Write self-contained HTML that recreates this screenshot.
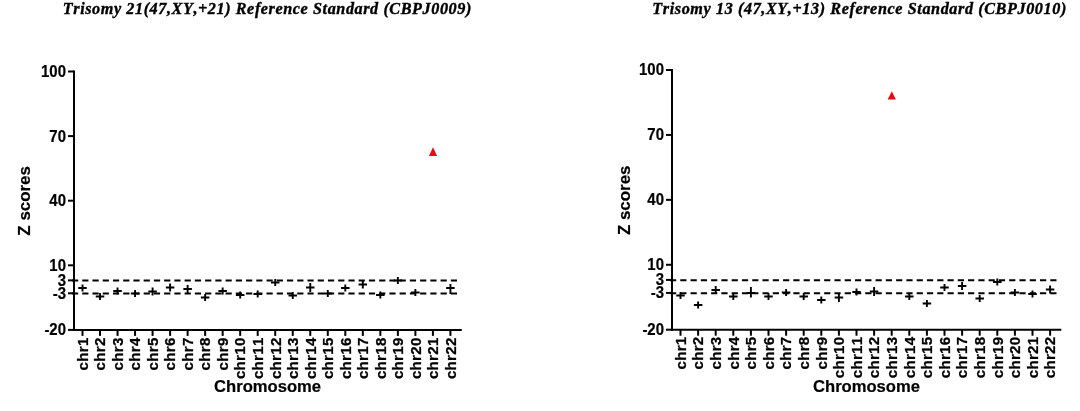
<!DOCTYPE html>
<html><head><meta charset="utf-8"><title>Z scores</title>
<style>
html,body{margin:0;padding:0;background:#fff;}
svg{display:block;}
.ttl{font-family:"Liberation Serif",serif;font-weight:bold;font-style:italic;font-size:17.6px;fill:#000;stroke:#000;stroke-width:0.4px;}
.tk{font-family:"Liberation Sans",sans-serif;font-weight:bold;font-size:15.5px;fill:#000;stroke:#000;stroke-width:0.25px;letter-spacing:0.27px;}
.yk{font-family:"Liberation Sans",sans-serif;font-weight:bold;font-size:16.1px;fill:#000;stroke:#000;stroke-width:0.2px;}
.at{font-family:"Liberation Sans",sans-serif;font-weight:bold;font-size:16.6px;fill:#000;stroke:#000;stroke-width:0.2px;}
.zs{font-size:16.9px;}
text{font-kerning:none;}
.ax{stroke:#000;stroke-width:2;fill:none;}
.ds{stroke:#000;stroke-width:2;fill:none;}
.pt{stroke:#000;stroke-width:1.9;fill:none;}
</style></head>
<body>
<svg width="1080" height="411" viewBox="0 0 1080 411">
<rect width="1080" height="411" fill="#fff"/>
<text transform="translate(62.8 14.4) scale(0.92 1)" class="ttl" textLength="444.02" lengthAdjust="spacing">Trisomy 21(47,XY,+21) Reference Standard (CBPJ0009)</text>
<path d="M74 70.5 V330.9" class="ax"/>
<path d="M73 329.9 H461.8" class="ax"/>
<path d="M68 71.50 H74" class="ax"/>
<text transform="translate(66.0 77.05) scale(0.93 1)" class="yk" text-anchor="end">100</text>
<path d="M68 136.10 H74" class="ax"/>
<text transform="translate(66.0 141.65) scale(0.93 1)" class="yk" text-anchor="end">70</text>
<path d="M68 200.70 H74" class="ax"/>
<text transform="translate(66.0 206.25) scale(0.93 1)" class="yk" text-anchor="end">40</text>
<path d="M68 265.30 H74" class="ax"/>
<text transform="translate(66.0 270.85) scale(0.93 1)" class="yk" text-anchor="end">10</text>
<path d="M68 280.37 H74" class="ax"/>
<text transform="translate(66.0 285.92) scale(0.93 1)" class="yk" text-anchor="end">3</text>
<path d="M68 293.29 H74" class="ax"/>
<text transform="translate(66.0 298.84) scale(0.93 1)" class="yk" text-anchor="end">-3</text>
<path d="M68 329.90 H74" class="ax"/>
<text transform="translate(66.0 335.45) scale(0.93 1)" class="yk" text-anchor="end">-20</text>
<path d="M72 280.62 H457" class="ds" stroke-dasharray="6.2 4.038"/>
<path d="M72 293.54 H457" class="ds" stroke-dasharray="6.2 4.038"/>
<path d="M82.50 329.9 V335.9" class="ax"/>
<text transform="translate(87.80 337.45000000000005) rotate(-90) scale(0.975 1)" class="tk" text-anchor="end">chr1</text>
<path d="M100.02 329.9 V335.9" class="ax"/>
<text transform="translate(105.32 337.45000000000005) rotate(-90) scale(0.975 1)" class="tk" text-anchor="end">chr2</text>
<path d="M117.54 329.9 V335.9" class="ax"/>
<text transform="translate(122.84 337.45000000000005) rotate(-90) scale(0.975 1)" class="tk" text-anchor="end">chr3</text>
<path d="M135.06 329.9 V335.9" class="ax"/>
<text transform="translate(140.36 337.45000000000005) rotate(-90) scale(0.975 1)" class="tk" text-anchor="end">chr4</text>
<path d="M152.58 329.9 V335.9" class="ax"/>
<text transform="translate(157.88 337.45000000000005) rotate(-90) scale(0.975 1)" class="tk" text-anchor="end">chr5</text>
<path d="M170.10 329.9 V335.9" class="ax"/>
<text transform="translate(175.40 337.45000000000005) rotate(-90) scale(0.975 1)" class="tk" text-anchor="end">chr6</text>
<path d="M187.62 329.9 V335.9" class="ax"/>
<text transform="translate(192.92 337.45000000000005) rotate(-90) scale(0.975 1)" class="tk" text-anchor="end">chr7</text>
<path d="M205.14 329.9 V335.9" class="ax"/>
<text transform="translate(210.44 337.45000000000005) rotate(-90) scale(0.975 1)" class="tk" text-anchor="end">chr8</text>
<path d="M222.66 329.9 V335.9" class="ax"/>
<text transform="translate(227.96 337.45000000000005) rotate(-90) scale(0.975 1)" class="tk" text-anchor="end">chr9</text>
<path d="M240.18 329.9 V335.9" class="ax"/>
<text transform="translate(245.48 337.45000000000005) rotate(-90) scale(0.975 1)" class="tk" text-anchor="end">chr10</text>
<path d="M257.70 329.9 V335.9" class="ax"/>
<text transform="translate(263.00 337.45000000000005) rotate(-90) scale(0.975 1)" class="tk" text-anchor="end">chr11</text>
<path d="M275.22 329.9 V335.9" class="ax"/>
<text transform="translate(280.52 337.45000000000005) rotate(-90) scale(0.975 1)" class="tk" text-anchor="end">chr12</text>
<path d="M292.74 329.9 V335.9" class="ax"/>
<text transform="translate(298.04 337.45000000000005) rotate(-90) scale(0.975 1)" class="tk" text-anchor="end">chr13</text>
<path d="M310.26 329.9 V335.9" class="ax"/>
<text transform="translate(315.56 337.45000000000005) rotate(-90) scale(0.975 1)" class="tk" text-anchor="end">chr14</text>
<path d="M327.78 329.9 V335.9" class="ax"/>
<text transform="translate(333.08 337.45000000000005) rotate(-90) scale(0.975 1)" class="tk" text-anchor="end">chr15</text>
<path d="M345.30 329.9 V335.9" class="ax"/>
<text transform="translate(350.60 337.45000000000005) rotate(-90) scale(0.975 1)" class="tk" text-anchor="end">chr16</text>
<path d="M362.82 329.9 V335.9" class="ax"/>
<text transform="translate(368.12 337.45000000000005) rotate(-90) scale(0.975 1)" class="tk" text-anchor="end">chr17</text>
<path d="M380.34 329.9 V335.9" class="ax"/>
<text transform="translate(385.64 337.45000000000005) rotate(-90) scale(0.975 1)" class="tk" text-anchor="end">chr18</text>
<path d="M397.86 329.9 V335.9" class="ax"/>
<text transform="translate(403.16 337.45000000000005) rotate(-90) scale(0.975 1)" class="tk" text-anchor="end">chr19</text>
<path d="M415.38 329.9 V335.9" class="ax"/>
<text transform="translate(420.68 337.45000000000005) rotate(-90) scale(0.975 1)" class="tk" text-anchor="end">chr20</text>
<path d="M432.90 329.9 V335.9" class="ax"/>
<text transform="translate(438.20 337.45000000000005) rotate(-90) scale(0.975 1)" class="tk" text-anchor="end">chr21</text>
<path d="M450.42 329.9 V335.9" class="ax"/>
<text transform="translate(455.72 337.45000000000005) rotate(-90) scale(0.975 1)" class="tk" text-anchor="end">chr22</text>
<path d="M78.25 288 h8.5 M82.50 284.5 v7" class="pt"/>
<path d="M95.77 296.5 h8.5 M100.02 293.0 v7" class="pt"/>
<path d="M113.29 291 h8.5 M117.54 287.5 v7" class="pt"/>
<path d="M130.81 293.5 h8.5 M135.06 290.0 v7" class="pt"/>
<path d="M148.33 291.5 h8.5 M152.58 287.5 v8" class="pt"/>
<path d="M165.85 287.5 h8.5 M170.10 283.5 v8" class="pt"/>
<path d="M183.37 289 h8.5 M187.62 285.0 v8" class="pt"/>
<path d="M200.89 297.5 h8.5 M205.14 294.0 v7" class="pt"/>
<path d="M218.41 291 h8.5 M222.66 287.5 v7" class="pt"/>
<path d="M235.93 295 h8.5 M240.18 291.5 v7" class="pt"/>
<path d="M253.45 294 h8.5 M257.70 290.5 v7" class="pt"/>
<path d="M270.97 282.5 h8.5 M275.22 279.0 v7" class="pt"/>
<path d="M288.49 295.5 h8.5 M292.74 292.0 v7" class="pt"/>
<path d="M306.01 287.5 h8.5 M310.26 283.0 v9" class="pt"/>
<path d="M323.53 293.5 h8.5 M327.78 290.0 v7" class="pt"/>
<path d="M341.05 288 h8.5 M345.30 284.5 v7" class="pt"/>
<path d="M358.57 284.5 h8.5 M362.82 280.5 v8" class="pt"/>
<path d="M376.09 295 h8.5 M380.34 291.5 v7" class="pt"/>
<path d="M393.61 280.5 h8.5 M397.86 277.0 v7" class="pt"/>
<path d="M411.13 292.5 h8.5 M415.38 289.0 v7" class="pt"/>
<path d="M446.17 288 h8.5 M450.42 284.0 v10" class="pt"/>
<path d="M433 147.2 L437.1 156 H428.9 Z" fill="#e60d14"/>
<text transform="translate(29.8 200.9) rotate(-90)" class="at zs" text-anchor="middle">Z scores</text>
<text x="267.6" y="392.2" class="at" text-anchor="middle">Chromosome</text>
<text transform="translate(652.3 14.4) scale(0.92 1)" class="ttl" textLength="450.00" lengthAdjust="spacing">Trisomy 13 (47,XY,+13) Reference Standard (CBPJ0010)</text>
<path d="M672 69 V330.7" class="ax"/>
<path d="M671 329.7 H1061.3" class="ax"/>
<path d="M666 70.00 H672" class="ax"/>
<text transform="translate(664.0 75.00) scale(0.93 1)" class="yk" text-anchor="end">100</text>
<path d="M666 134.93 H672" class="ax"/>
<text transform="translate(664.0 139.93) scale(0.93 1)" class="yk" text-anchor="end">70</text>
<path d="M666 199.85 H672" class="ax"/>
<text transform="translate(664.0 204.85) scale(0.93 1)" class="yk" text-anchor="end">40</text>
<path d="M666 264.77 H672" class="ax"/>
<text transform="translate(664.0 269.77) scale(0.93 1)" class="yk" text-anchor="end">10</text>
<path d="M666 279.92 H672" class="ax"/>
<text transform="translate(664.0 284.92) scale(0.93 1)" class="yk" text-anchor="end">3</text>
<path d="M666 292.91 H672" class="ax"/>
<text transform="translate(664.0 297.91) scale(0.93 1)" class="yk" text-anchor="end">-3</text>
<path d="M666 329.70 H672" class="ax"/>
<text transform="translate(664.0 334.70) scale(0.93 1)" class="yk" text-anchor="end">-20</text>
<path d="M670 280.17 H1056.5" class="ds" stroke-dasharray="6.2 4.078"/>
<path d="M670 293.16 H1056.5" class="ds" stroke-dasharray="6.2 4.078"/>
<path d="M680.50 329.7 V335.7" class="ax"/>
<text transform="translate(685.80 336.55) rotate(-90) scale(0.975 1)" class="tk" text-anchor="end">chr1</text>
<path d="M698.10 329.7 V335.7" class="ax"/>
<text transform="translate(703.40 336.55) rotate(-90) scale(0.975 1)" class="tk" text-anchor="end">chr2</text>
<path d="M715.70 329.7 V335.7" class="ax"/>
<text transform="translate(721.00 336.55) rotate(-90) scale(0.975 1)" class="tk" text-anchor="end">chr3</text>
<path d="M733.30 329.7 V335.7" class="ax"/>
<text transform="translate(738.60 336.55) rotate(-90) scale(0.975 1)" class="tk" text-anchor="end">chr4</text>
<path d="M750.90 329.7 V335.7" class="ax"/>
<text transform="translate(756.20 336.55) rotate(-90) scale(0.975 1)" class="tk" text-anchor="end">chr5</text>
<path d="M768.50 329.7 V335.7" class="ax"/>
<text transform="translate(773.80 336.55) rotate(-90) scale(0.975 1)" class="tk" text-anchor="end">chr6</text>
<path d="M786.10 329.7 V335.7" class="ax"/>
<text transform="translate(791.40 336.55) rotate(-90) scale(0.975 1)" class="tk" text-anchor="end">chr7</text>
<path d="M803.70 329.7 V335.7" class="ax"/>
<text transform="translate(809.00 336.55) rotate(-90) scale(0.975 1)" class="tk" text-anchor="end">chr8</text>
<path d="M821.30 329.7 V335.7" class="ax"/>
<text transform="translate(826.60 336.55) rotate(-90) scale(0.975 1)" class="tk" text-anchor="end">chr9</text>
<path d="M838.90 329.7 V335.7" class="ax"/>
<text transform="translate(844.20 336.55) rotate(-90) scale(0.975 1)" class="tk" text-anchor="end">chr10</text>
<path d="M856.50 329.7 V335.7" class="ax"/>
<text transform="translate(861.80 336.55) rotate(-90) scale(0.975 1)" class="tk" text-anchor="end">chr11</text>
<path d="M874.10 329.7 V335.7" class="ax"/>
<text transform="translate(879.40 336.55) rotate(-90) scale(0.975 1)" class="tk" text-anchor="end">chr12</text>
<path d="M891.70 329.7 V335.7" class="ax"/>
<text transform="translate(897.00 336.55) rotate(-90) scale(0.975 1)" class="tk" text-anchor="end">chr13</text>
<path d="M909.30 329.7 V335.7" class="ax"/>
<text transform="translate(914.60 336.55) rotate(-90) scale(0.975 1)" class="tk" text-anchor="end">chr14</text>
<path d="M926.90 329.7 V335.7" class="ax"/>
<text transform="translate(932.20 336.55) rotate(-90) scale(0.975 1)" class="tk" text-anchor="end">chr15</text>
<path d="M944.50 329.7 V335.7" class="ax"/>
<text transform="translate(949.80 336.55) rotate(-90) scale(0.975 1)" class="tk" text-anchor="end">chr16</text>
<path d="M962.10 329.7 V335.7" class="ax"/>
<text transform="translate(967.40 336.55) rotate(-90) scale(0.975 1)" class="tk" text-anchor="end">chr17</text>
<path d="M979.70 329.7 V335.7" class="ax"/>
<text transform="translate(985.00 336.55) rotate(-90) scale(0.975 1)" class="tk" text-anchor="end">chr18</text>
<path d="M997.30 329.7 V335.7" class="ax"/>
<text transform="translate(1002.60 336.55) rotate(-90) scale(0.975 1)" class="tk" text-anchor="end">chr19</text>
<path d="M1014.90 329.7 V335.7" class="ax"/>
<text transform="translate(1020.20 336.55) rotate(-90) scale(0.975 1)" class="tk" text-anchor="end">chr20</text>
<path d="M1032.50 329.7 V335.7" class="ax"/>
<text transform="translate(1037.80 336.55) rotate(-90) scale(0.975 1)" class="tk" text-anchor="end">chr21</text>
<path d="M1050.10 329.7 V335.7" class="ax"/>
<text transform="translate(1055.40 336.55) rotate(-90) scale(0.975 1)" class="tk" text-anchor="end">chr22</text>
<path d="M676.25 295.5 h8.5 M680.50 292.0 v7" class="pt"/>
<path d="M693.85 305 h8.5 M698.10 301.5 v7" class="pt"/>
<path d="M711.45 290 h8.5 M715.70 286.0 v8" class="pt"/>
<path d="M729.05 296.5 h8.5 M733.30 293.0 v7" class="pt"/>
<path d="M746.65 293 h8.5 M750.90 287.0 v10.5" class="pt"/>
<path d="M764.25 296.5 h8.5 M768.50 293.0 v7" class="pt"/>
<path d="M781.85 292.5 h8.5 M786.10 289.0 v7" class="pt"/>
<path d="M799.45 296.5 h8.5 M803.70 293.0 v7" class="pt"/>
<path d="M817.05 300 h8.5 M821.30 296.5 v7" class="pt"/>
<path d="M834.65 297.5 h8.5 M838.90 293.0 v9" class="pt"/>
<path d="M852.25 292 h8.5 M856.50 288.5 v7" class="pt"/>
<path d="M869.85 291.5 h8.5 M874.10 287.0 v9" class="pt"/>
<path d="M905.05 296.5 h8.5 M909.30 293.0 v7" class="pt"/>
<path d="M922.65 303.5 h8.5 M926.90 300.0 v7" class="pt"/>
<path d="M940.25 287.5 h8.5 M944.50 284.0 v7" class="pt"/>
<path d="M957.85 286 h8.5 M962.10 282.0 v8" class="pt"/>
<path d="M975.45 298.5 h8.5 M979.70 295.0 v7" class="pt"/>
<path d="M993.05 282 h8.5 M997.30 278.5 v7" class="pt"/>
<path d="M1010.65 292.5 h8.5 M1014.90 289.0 v7" class="pt"/>
<path d="M1028.25 294 h8.5 M1032.50 290.5 v7" class="pt"/>
<path d="M1045.85 289.5 h8.5 M1050.10 285.5 v8" class="pt"/>
<path d="M891.8 91.2 L895.9499999999999 99.6 H887.65 Z" fill="#e60d14"/>
<text transform="translate(630.4 200.3) rotate(-90)" class="at zs" text-anchor="middle">Z scores</text>
<text x="866.5" y="392.2" class="at" text-anchor="middle">Chromosome</text>
</svg>
</body></html>
